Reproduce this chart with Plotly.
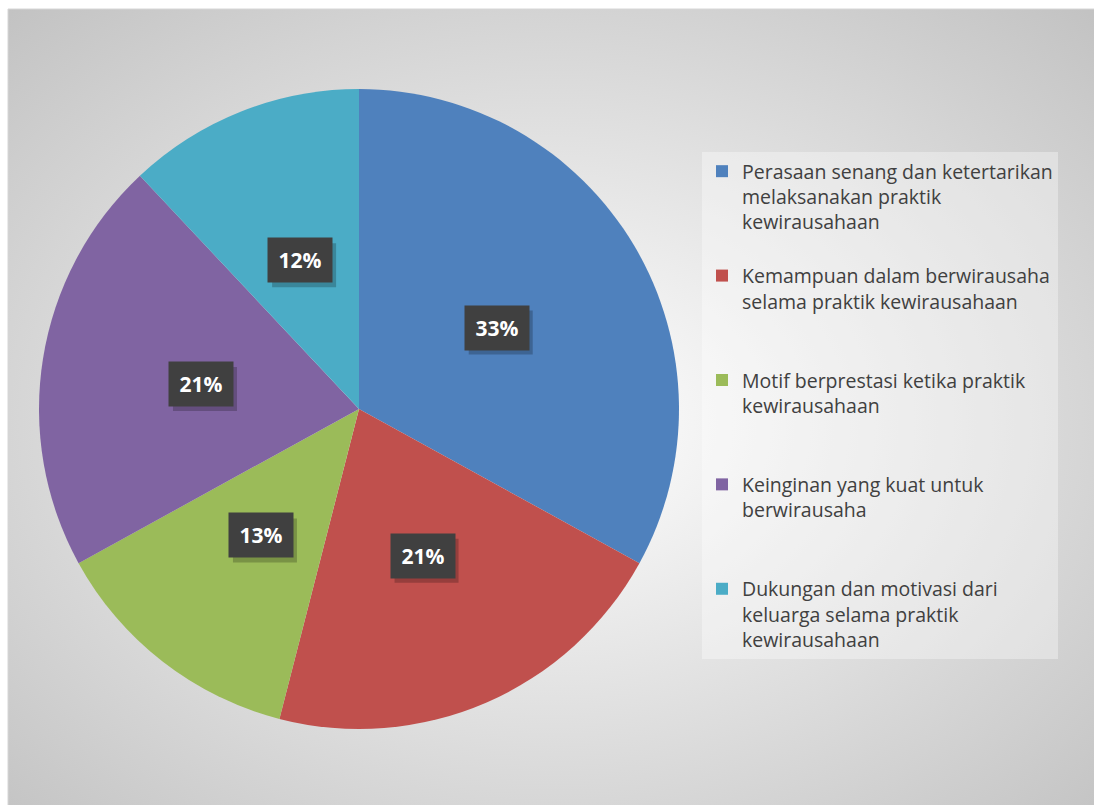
import base64
import math
import plotly.graph_objects as go

# ---- data ----
categories = [
    "Perasaan senang dan ketertarikan<br>melaksanakan praktik<br>kewirausahaan",
    "Kemampuan dalam berwirausaha<br>selama praktik kewirausahaan",
    "Motif berprestasi ketika praktik<br>kewirausahaan",
    "Keinginan yang kuat untuk<br>berwirausaha",
    "Dukungan dan motivasi dari<br>keluarga selama praktik<br>kewirausahaan",
]
values = [33, 21, 13, 21, 12]
colors = ["#4F81BD", "#C0504D", "#9BBB59", "#8064A2", "#4BACC6"]

W, H = 1094, 805          # full page
OX, OY = 8, 9             # chart area offset (page px)

# pad legend labels to equal line count so entries are evenly spaced
max_lines = 4
legend_labels = []
for i, c in enumerate(categories):
    n = c.count("<br>") + 1
    pad = 0 if i == len(categories) - 1 else max_lines - n
    legend_labels.append(c + "<br> " * pad)

# pie placement (page px)
PCX, PCY, PR = 359, 409, 320
dom_x = [(PCX - PR) / W, (PCX + PR) / W]
dom_y = [(H - PCY - PR) / H, (H - PCY + PR) / H]

fig = go.Figure()
fig.add_trace(go.Pie(
    labels=legend_labels,
    values=values,
    sort=False,
    direction="clockwise",
    rotation=0,
    marker=dict(colors=colors, line=dict(width=0)),
    textinfo="none",
    hoverinfo="label+percent",
    domain=dict(x=dom_x, y=dom_y),
))

# data label annotations computed from values
total = sum(values)
cx = (dom_x[0] + dom_x[1]) / 2 * W
cy = (dom_y[0] + dom_y[1]) / 2 * H
R = min((dom_x[1] - dom_x[0]) * W, (dom_y[1] - dom_y[0]) * H) / 2
annotations = []
shapes = [dict(type="rect", xref="paper", yref="paper",
               x0=OX / W, y0=-0.01, x1=1.01, y1=1 - OY / H,
               line=dict(color="#D6D6D6", width=1), layer="below")]
BW, BH = 64, 44   # label box size (px)
cum = 0
for v in values:
    mid = (cum + v / 2) / total * 2 * math.pi
    cum += v
    px = cx + 0.5 * R * math.sin(mid)
    py = cy + 0.5 * R * math.cos(mid)
    # soft shadow behind the label box
    shapes.append(dict(type="rect", xref="paper", yref="paper",
                       x0=(px - BW / 2 + 4) / W, x1=(px + BW / 2 + 4) / W,
                       y0=(py - BH / 2 - 5) / H, y1=(py + BH / 2 - 5) / H,
                       fillcolor="rgba(0,0,0,0.22)", line=dict(width=0), layer="above"))
    annotations.append(dict(
        x=px / W, y=py / H, xref="paper", yref="paper",
        text=f"<b>{round(v / total * 100)}%</b>",
        showarrow=False, xanchor="center", yanchor="middle",
        width=BW, height=BH, borderpad=0, align="center", valign="middle",
        font=dict(family="Open Sans, sans-serif", size=21, color="#FFFFFF"),
        bgcolor="#404040",
    ))

CW, CH = W - OX, H - OY
svg = (
    f"<svg xmlns='http://www.w3.org/2000/svg' width='{CW}' height='{CH}'>"
    "<defs><radialGradient id='g' cx='0.5' cy='0.52' r='0.75'>"
    "<stop offset='0' stop-color='#ffffff'/>"
    "<stop offset='1' stop-color='#c0c0c0'/>"
    "</radialGradient></defs>"
    "<rect width='100%' height='100%' fill='url(#g)'/></svg>"
)
src = "data:image/svg+xml;base64," + base64.b64encode(svg.encode()).decode()

fig.update_layout(
    width=W, height=H,
    autosize=False,
    margin=dict(l=0, r=0, t=0, b=0),
    paper_bgcolor="#FFFFFF",
    images=[dict(source=src, xref="paper", yref="paper", x=OX / W, y=1 - OY / H,
                 sizex=CW / W, sizey=CH / H, sizing="stretch", layer="below",
                 xanchor="left", yanchor="top")],
    shapes=shapes,
    annotations=annotations,
    showlegend=True,
    legend=dict(
        x=702 / W, y=1 - 152 / H, xanchor="left", yanchor="top",
        bgcolor="rgba(255,255,255,0.35)",
        font=dict(family="Open Sans, sans-serif", size=19.5, color="#404040"),
        valign="top", itemwidth=30, tracegroupgap=0,
    ),
)

fig.write_html(
    "out.html",
    config={"displayModeBar": False},
    post_script="document.body.style.margin='0';document.body.style.overflow='hidden';",
)
